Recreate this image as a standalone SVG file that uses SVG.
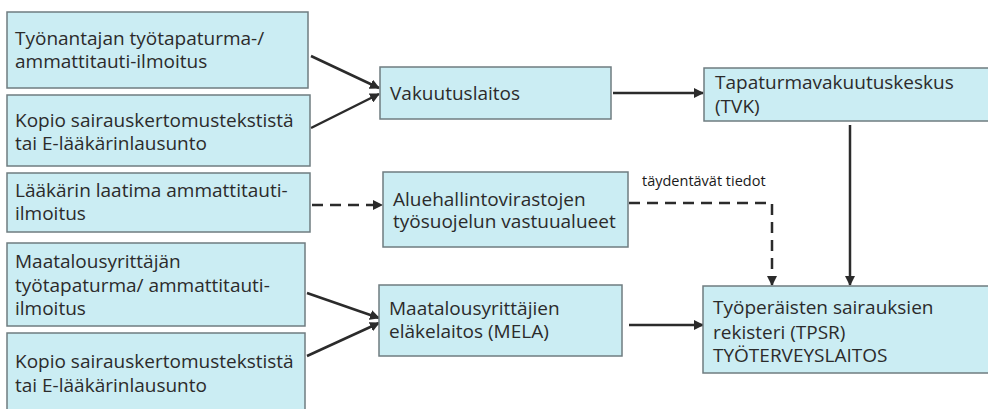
<svg xmlns="http://www.w3.org/2000/svg" width="988" height="409" viewBox="0 0 988 409">
<style>
.box{fill:#cbedf3;stroke:#6f7c80;stroke-width:1.5}
.t{font-family:"Open Sans","DejaVu Sans",sans-serif;font-size:19px;fill:#2b2b2b}
.lbl{font-family:"Open Sans","DejaVu Sans",sans-serif;font-size:14.5px;fill:#1a1a1a}
.c{fill:none;stroke:#2b2b2b;stroke-width:2.5}
.d{stroke-dasharray:11,7}
</style>
<defs>
<marker id="ah" viewBox="0 0 10 10" refX="9" refY="5" markerWidth="4" markerHeight="4" orient="auto" markerUnits="strokeWidth">
<path d="M0,0 L10,5 L0,10 z" fill="#2b2b2b"/>
</marker>
</defs>
<g id="connectors">
<line class="c" x1="311" y1="56" x2="379" y2="88" marker-end="url(#ah)"/>
<line class="c" x1="311" y1="128" x2="379" y2="94" marker-end="url(#ah)"/>
<line class="c" x1="613" y1="93" x2="703" y2="93" marker-end="url(#ah)"/>
<line class="c" x1="850" y1="125" x2="850" y2="285" marker-end="url(#ah)"/>
<line class="c d" x1="312" y1="205" x2="382" y2="205" marker-end="url(#ah)"/>
<polyline class="c d" points="629,203 772,203 772,285" marker-end="url(#ah)"/>
<line class="c" x1="307" y1="293" x2="379" y2="318" marker-end="url(#ah)"/>
<line class="c" x1="307" y1="356" x2="379" y2="323" marker-end="url(#ah)"/>
<line class="c" x1="629" y1="325" x2="703" y2="325" marker-end="url(#ah)"/>
<text class="lbl" x="642" y="186">täydentävät tiedot</text>
</g>
<g id="n1"><rect class="box" x="7" y="12" width="301" height="76"/>
<text class="t" x="15" y="45">Työnantajan työtapaturma-/</text><text class="t" x="15" y="68">ammattitauti-ilmoitus</text></g>
<g id="n2"><rect class="box" x="7" y="95" width="303" height="71"/>
<text class="t" x="15" y="127">Kopio sairauskertomustekstistä</text><text class="t" x="15" y="150">tai E-lääkärinlausunto</text></g>
<g id="n3"><rect class="box" x="7" y="173" width="303" height="59"/>
<text class="t" x="15" y="197">Lääkärin laatima ammattitauti-</text><text class="t" x="15" y="220">ilmoitus</text></g>
<g id="n4"><rect class="box" x="7" y="243" width="298" height="83"/>
<text class="t" x="15" y="268">Maatalousyrittäjän</text><text class="t" x="15" y="292">työtapaturma/ ammattitauti-</text><text class="t" x="15" y="315">ilmoitus</text></g>
<g id="n5"><rect class="box" x="7" y="333" width="298" height="90"/>
<text class="t" x="15" y="368">Kopio sairauskertomustekstistä</text><text class="t" x="15" y="392">tai E-lääkärinlausunto</text></g>
<g id="n6"><rect class="box" x="380" y="67" width="231" height="52"/>
<text class="t" x="390" y="100">Vakuutuslaitos</text></g>
<g id="n7"><rect class="box" x="383" y="172" width="245" height="75"/>
<text class="t" x="393" y="206">Aluehallintovirastojen</text><text class="t" x="393" y="228">työsuojelun vastuualueet</text></g>
<g id="n8"><rect class="box" x="379" y="285" width="243" height="71"/>
<text class="t" x="389" y="315">Maatalousyrittäjien</text><text class="t" x="389" y="338">eläkelaitos (MELA)</text></g>
<g id="n9"><rect class="box" x="704" y="68" width="290" height="53"/>
<text class="t" x="715" y="89">Tapaturmavakuutuskeskus</text><text class="t" x="715" y="113">(TVK)</text></g>
<g id="n10"><rect class="box" x="703" y="286" width="291" height="87"/>
<text class="t" x="713" y="314">Työperäisten sairauksien</text><text class="t" x="713" y="339">rekisteri (TPSR)</text><text class="t" x="713" y="362">TYÖTERVEYSLAITOS</text></g>
</svg>
